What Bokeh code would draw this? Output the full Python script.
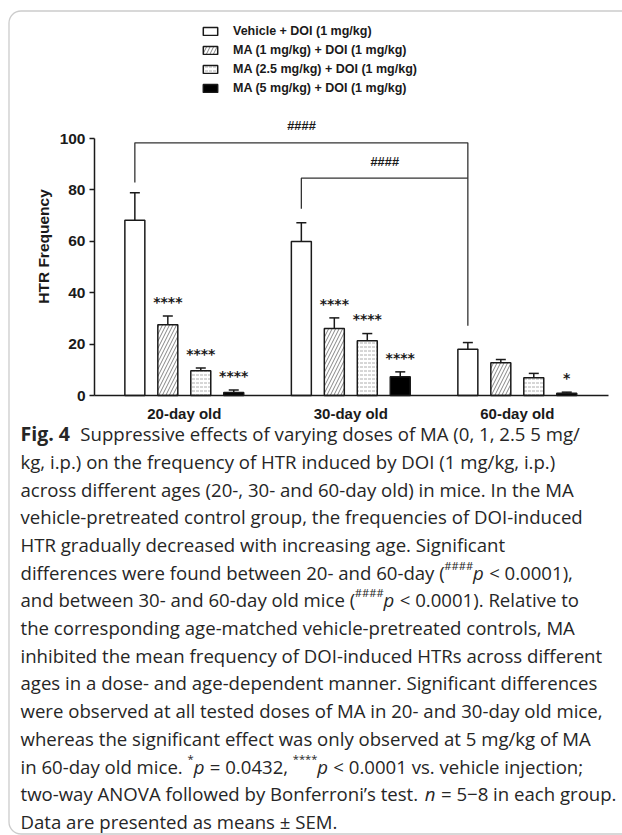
import math
from bokeh.plotting import figure
from bokeh.models import (ColumnDataSource, FixedTicker, Label, Legend, LegendItem, LinearAxis,
                          Whisker, TeeHead, BoxAnnotation, Range1d)
from bokeh.embed import file_html
from bokeh.resources import INLINE
from bokeh.core.properties import value

# ---------------- data ----------------
ages = ["20-day old", "30-day old", "60-day old"]
treatments = ["Vehicle + DOI (1 mg/kg)", "MA (1 mg/kg) + DOI (1 mg/kg)",
              "MA (2.5 mg/kg) + DOI (1 mg/kg)", "MA (5 mg/kg) + DOI (1 mg/kg)"]
vehicle_mean = [68.2, 59.9, 18.0]
vehicle_sem = [10.7, 7.3, 2.6]
ma1_mean = [27.5, 26.1, 12.7]
ma1_sem = [3.4, 4.1, 1.3]
ma25_mean = [9.6, 21.3, 6.9]
ma25_sem = [1.1, 2.8, 1.7]
ma5_mean = [1.2, 7.3, 0.9]
ma5_sem = [0.9, 1.9, 0.4]
stars_vehicle = ["", "", ""]
stars_ma1 = ["****", "****", ""]
stars_ma25 = ["****", "****", ""]
stars_ma5 = ["****", "****", "*"]
y_ticks = [0, 20, 40, 60, 80, 100]
hash_text = "####"
y_label = "HTR Frequency"

caption_lines = [
    [("Fig. 4", "b"), ("  Suppressive effects of varying doses of MA (0, 1, 2.5 5 mg/", "n")],
    [("kg, i.p.) on the frequency of HTR induced by DOI (1 mg/kg, i.p.)", "n")],
    [("across different ages (20-, 30- and 60-day old) in mice. In the MA", "n")],
    [("vehicle-pretreated control group, the frequencies of DOI-induced", "n")],
    [("HTR gradually decreased with increasing age. Significant", "n")],
    [("differences were found between 20- and 60-day (", "n"), ("####", "s"), ("p", "i"), (" < 0.0001),", "n")],
    [("and between 30- and 60-day old mice (", "n"), ("####", "s"), ("p", "i"), (" < 0.0001). Relative to", "n")],
    [("the corresponding age-matched vehicle-pretreated controls, MA", "n")],
    [("inhibited the mean frequency of DOI-induced HTRs across different", "n")],
    [("ages in a dose- and age-dependent manner. Significant differences", "n")],
    [("were observed at all tested doses of MA in 20- and 30-day old mice,", "n")],
    [("whereas the significant effect was only observed at 5 mg/kg of MA", "n")],
    [("in 60-day old mice. ", "n"), ("*", "s"), ("p", "i"), (" = 0.0432, ", "n"), ("****", "s"), ("p", "i"),
     (" < 0.0001 vs. vehicle injection;", "n")],
    [("two-way ANOVA followed by Bonferroni\u2019s test. ", "n"), ("n", "i"), (" = 5\u22128 in each group.", "n")],
    [("Data are presented as means \u00b1 SEM.", "n")],
]

# ---------------- layout constants (page pixels) ----------------
W, H = 622, 835
AXIS_X_PX, AXIS_END_PX = 94, 608      # y-axis position, right end of x-axis
ZERO_Y_PX = 395                        # pixel row of value 0
PX_PER_UNIT = 2.57                     # vertical scale
GROUP0_PX, PX_PER_GROUP = 183.8, 166.5
STEP, BW = 0.198, 0.12
AX = "Liberation Sans"
INK = "#1a1a1a"

# primary ranges = page pixels (y downward); chart ranges mapped onto the same canvas
p = figure(width=W, height=H, output_backend="svg", toolbar_location=None,
           x_range=Range1d(0, W), y_range=Range1d(H, 0),
           x_axis_location=None, y_axis_location=None, min_border=0)
p.extra_x_ranges = {"cx": Range1d((0 - GROUP0_PX) / PX_PER_GROUP, (W - GROUP0_PX) / PX_PER_GROUP)}
p.extra_y_ranges = {"cy": Range1d((ZERO_Y_PX - H) / PX_PER_UNIT, ZERO_Y_PX / PX_PER_UNIT)}
p.outline_line_color = None
p.grid.visible = False
p.background_fill_color = "white"
p.border_fill_color = "white"

CH = dict(x_range_name="cx", y_range_name="cy")

means = [vehicle_mean, ma1_mean, ma25_mean, ma5_mean]
sems = [vehicle_sem, ma1_sem, ma25_sem, ma5_sem]
stars = [stars_vehicle, stars_ma1, stars_ma25, stars_ma5]
styles = [
    dict(fill_color="white"),
    dict(fill_color="white", hatch_pattern="right_diagonal_line", hatch_color="#666",
         hatch_scale=7, hatch_weight=0.8),
    dict(fill_color="white", hatch_pattern="horizontal_dash", hatch_color="#999",
         hatch_scale=4, hatch_weight=0.8),
    dict(fill_color="black"),
]

renderers = []
for k in range(4):
    xs = [i + (k - 1.5) * STEP for i in range(3)]
    tops = [m + s for m, s in zip(means[k], sems[k])]
    src = ColumnDataSource(dict(x=xs, top=means[k], upper=tops,
                                star_y=[t + 5.5 for t in tops], star=stars[k]))
    w = Whisker(base="x", upper="upper", lower="top", source=src, dimension="height",
                line_color=INK, line_width=1.5, level="glyph",
                upper_head=TeeHead(size=10, line_color=INK, line_width=1.5), lower_head=None, **CH)
    p.add_layout(w)
    r = p.vbar(x="x", top="top", bottom=0, width=BW, source=src,
               line_color=INK, line_width=1.5, **styles[k], **CH)
    renderers.append(r)
    p.text(x="x", y="star_y", text="star", source=src, text_font=value("DejaVu Sans"),
           text_font_style="bold", text_font_size="14px", text_align="center",
           text_baseline="alphabetic", text_color=INK, **CH)

# significance brackets (20 vs 60, 30 vs 60)
x_left = [0 - 1.5 * STEP, 1 - 1.5 * STEP]
x_right = 2 - 1.5 * STEP
br_top = [98.3, 84.6]
br_left_bottom = [vehicle_mean[0] + vehicle_sem[0] + 4, vehicle_mean[1] + vehicle_sem[1] + 5.5]
br_right_bottom = vehicle_mean[2] + vehicle_sem[2] + 6.5
p.multi_line(xs=[[x_left[0], x_left[0], x_right, x_right], [x_left[1], x_left[1], x_right]],
             ys=[[br_left_bottom[0], br_top[0], br_top[0], br_right_bottom],
                 [br_left_bottom[1], br_top[1], br_top[1]]],
             line_color="#333333", line_width=1.3, **CH)
p.text(x=[(x_left[0] + x_right) / 2, (x_left[1] + x_right) / 2], y=[br_top[0] + 6.7, br_top[1] + 6.5],
       text=[hash_text, hash_text], text_font=value(AX), text_font_style="bold italic",
       text_font_size="13px", text_align="center", text_baseline="middle", text_color=INK, **CH)

# axes (drawn at fixed chart locations on the shared canvas)
ax_x0 = (AXIS_X_PX - GROUP0_PX) / PX_PER_GROUP
ax_x1 = (AXIS_END_PX - GROUP0_PX) / PX_PER_GROUP
xa = LinearAxis(fixed_location=0, bounds=(ax_x0, ax_x1), **CH)
xa.ticker = FixedTicker(ticks=[0, 1, 2])
xa.major_label_overrides = {0: ages[0], 1: ages[1], 2: ages[2]}
xa.major_tick_line_color = None
xa.minor_tick_line_color = None
xa.major_tick_out = 0
xa.major_label_standoff = 9
xa.axis_line_width = 1.5
xa.axis_line_color = INK
xa.major_label_text_font = AX
xa.major_label_text_font_style = "bold"
xa.major_label_text_font_size = "15px"
xa.major_label_text_color = INK
p.add_layout(xa, "below")

ya = LinearAxis(fixed_location=ax_x0, bounds=(0, 100), **CH)
ya.ticker = FixedTicker(ticks=y_ticks)
ya.minor_tick_line_color = None
ya.major_tick_out = 5
ya.major_tick_in = 0
ya.major_tick_line_width = 1.5
ya.major_tick_line_color = INK
ya.axis_line_width = 1.5
ya.axis_line_color = INK
ya.major_label_standoff = 4
ya.major_label_text_font = AX
ya.major_label_text_font_style = "bold"
ya.major_label_text_font_size = "15.5px"
ya.major_label_text_color = INK
p.add_layout(ya, "left")

# y-axis title (placed as in the reference, above the axis centre)
p.add_layout(Label(x=43, y=246, text=y_label, angle=math.pi / 2, text_font=AX,
                   text_font_style="bold", text_font_size="15.5px", text_color=INK,
                   text_align="center", text_baseline="middle"))

# legend
legend = Legend(items=[LegendItem(label=treatments[k], renderers=[renderers[k]]) for k in range(4)],
                location=(201, 740), orientation="vertical", padding=0, margin=0,
                spacing=5, glyph_width=18, glyph_height=10, label_height=13,
                label_standoff=14, label_text_font=AX, label_text_font_style="bold",
                label_text_font_size="12.5px", label_text_color=INK,
                border_line_alpha=0, background_fill_alpha=0)
p.add_layout(legend, "center")

# outer rounded frame
p.add_layout(BoxAnnotation(left=8.5, right=W + 40, top=10.5, bottom=833.5,
                           fill_alpha=0, line_color="#555555", line_width=1.3,
                           border_radius=12, level="overlay"))

# caption
OS = {' ': .26, '#': .646, '(': .296, ')': .296, '*': .548, '+': .572, ',': .245, '-': .322,
      '.': .266, '/': .367, ':': .266, ';': .266, '<': .572, '=': .572, '>': .572,
      '\u2019': .245, '\u00b1': .572, '\u2212': .572,
      'A': .633, 'B': .648, 'C': .631, 'D': .729, 'E': .556, 'F': .516, 'G': .728, 'H': .738,
      'I': .279, 'J': .267, 'K': .614, 'L': .524, 'M': .903, 'N': .754, 'O': .779, 'P': .602,
      'Q': .779, 'R': .618, 'S': .549, 'T': .556, 'U': .738, 'V': .598, 'W': .929, 'X': .59,
      'Y': .562, 'Z': .562,
      'a': .556, 'b': .604, 'c': .477, 'd': .604, 'e': .561, 'f': .335, 'g': .538, 'h': .614,
      'i': .253, 'j': .253, 'k': .525, 'l': .253, 'm': .930, 'n': .614, 'o': .604, 'p': .604,
      'q': .604, 'r': .408, 's': .477, 't': .353, 'u': .614, 'v': .501, 'w': .778, 'x': .524,
      'y': .502, 'z': .477}
CS = 18.6
FIG_CS = 19.5
CFONT = "Open Sans"


def tw(s, size, bold=False):
    return sum(OS.get(c, .572) for c in s) * size * (1.07 if bold else 1.0)


x0_page = 20
line0 = 427
pitch = 27.7
for li, segs in enumerate(caption_lines):
    base_py = line0 + li * pitch + 0.33 * CS
    xp = x0_page
    for txt, st in segs:
        size = CS
        yoff = 0
        bold = st == "b"
        if bold:
            size = FIG_CS
        if st == "s":
            size = CS * 0.6
            yoff = 0.38 * CS
        lead = len(txt) - len(txt.lstrip(" "))
        xtxt = xp + tw(" " * lead, size)
        shown = txt.strip(" ")
        p.add_layout(Label(x=xtxt, y=base_py - yoff, text=shown,
                           text_font=CFONT, text_font_size=f"{size:.1f}px",
                           text_font_style="bold" if bold else ("italic" if st == "i" else "normal"),
                           text_color="#262626", text_baseline="alphabetic", text_align="left"))
        xp += tw(txt, size, bold)

open("out.html", "w").write(file_html(p, INLINE))
